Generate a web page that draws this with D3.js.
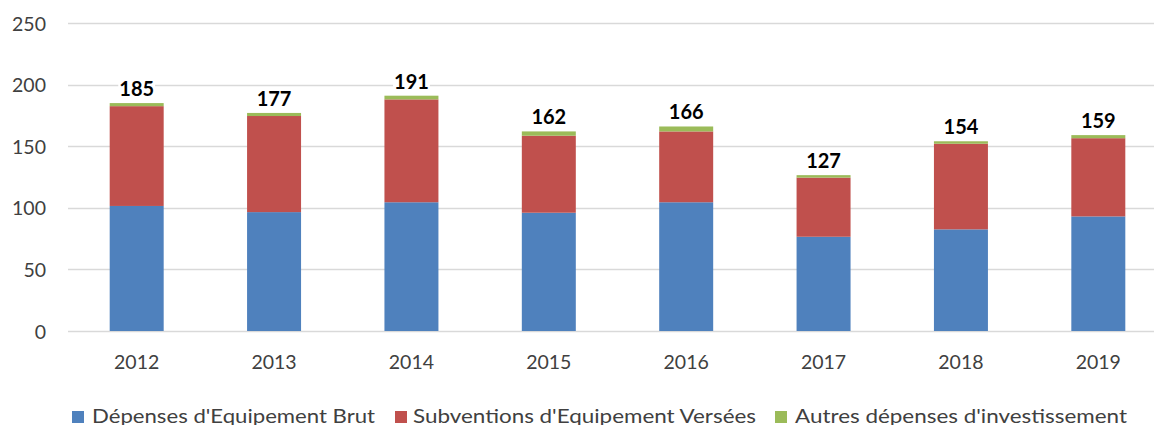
<!DOCTYPE html>
<html>
<head>
<meta charset="utf-8">
<script src="https://cdn.jsdelivr.net/npm/d3@7"></script>
<style>
  html, body { margin: 0; padding: 0; background: #fff; }
  svg { display: block; }
</style>
</head>
<body>
<svg id="chart" width="1154" height="425"></svg>
<script>
const years = ["2012", "2013", "2014", "2015", "2016", "2017", "2018", "2019"];
const equipementBrut = [101.5, 96.5, 104.5, 96, 104.5, 76.5, 82.5, 93];
const subventions = [81, 78, 83.5, 62.5, 57.5, 48, 69.5, 63.5];
const autres = [2.5, 2.5, 3, 3.5, 4, 2, 2, 2.5];
const totalLabels = [185, 177, 191, 162, 166, 127, 154, 159];
const yTicks = [0, 50, 100, 150, 200, 250];
const seriesNames = ["Dépenses d'Equipement Brut", "Subventions d'Equipement Versées", "Autres dépenses d'investissement"];
const seriesColors = ["#4F81BD", "#C0504D", "#9BBB59"];

const svg = d3.select("#chart");
const font = "Lato, 'Open Sans', sans-serif";

const x = d3.scaleBand().domain(years).range([68, 1167]).paddingInner(0.607).paddingOuter(0.3035);
const y = d3.scaleLinear().domain([0, 250]).range([331, 23]);

// gridlines
svg.append("g").selectAll("line").data(yTicks).join("line")
  .attr("x1", 68).attr("x2", 1154)
  .attr("y1", d => Math.round(y(d)) + 0.5).attr("y2", d => Math.round(y(d)) + 0.5)
  .attr("stroke", "#d9d9d9").attr("stroke-width", 1.5);

// y axis labels
const yAxis = d3.axisLeft(y).tickValues(yTicks).tickSize(0).tickPadding(0);
const gy = svg.append("g").attr("transform", "translate(46,0)").call(yAxis);
gy.select(".domain").remove();
gy.selectAll("text").attr("font-family", font).attr("font-size", "19.5px").attr("fill", "#404040").attr("dy", "0.36em");

// x axis labels
const xAxis = d3.axisBottom(x).tickSize(0).tickPadding(0);
const gx = svg.append("g").attr("transform", "translate(0,355)").call(xAxis);
gx.select(".domain").remove();
gx.selectAll("text").attr("font-family", font).attr("font-size", "19.5px").attr("fill", "#404040").attr("dy", "0.72em");

// stacked data
const rows = years.map((yr, i) => ({ year: yr, a: equipementBrut[i], b: subventions[i], c: autres[i] }));
const stack = d3.stack().keys(["a", "b", "c"]);
const stacked = stack(rows);

svg.append("g").selectAll("g").data(stacked).join("g")
  .attr("fill", (d, i) => seriesColors[i])
  .selectAll("rect").data(d => d).join("rect")
  .attr("x", d => x(d.data.year))
  .attr("width", x.bandwidth())
  .attr("y", d => y(d[1]))
  .attr("height", d => y(d[0]) - y(d[1]));

// total labels (with white background like the reference)
const tops = stacked[2];
const lblG = svg.append("g");
years.forEach((yr, i) => {
  const g = lblG.append("g");
  const bg = g.append("rect").attr("fill", "#fff");
  const t = g.append("text")
    .attr("x", x(yr) + x.bandwidth() / 2)
    .attr("y", y(tops[i][1]) - 7)
    .attr("text-anchor", "middle")
    .attr("font-family", font).attr("font-weight", "bold").attr("font-size", "20px")
    .attr("fill", "#000")
    .text(totalLabels[i]);
  const bb = t.node().getBBox();
  bg.attr("x", bb.x - 1).attr("y", bb.y + 2).attr("width", bb.width + 2).attr("height", bb.height - 4);
});

// legend
const legendSquareX = [72, 395, 775];
const legendTextX = [92, 413, 795];
const legendTextW = [283, 343, 332];
const lg = svg.append("g");
seriesNames.forEach((name, i) => {
  lg.append("rect").attr("x", legendSquareX[i]).attr("y", 411).attr("width", 12).attr("height", 12).attr("fill", seriesColors[i]);
  lg.append("text").attr("x", legendTextX[i]).attr("y", 422.5)
    .attr("font-family", font).attr("font-size", "19.5px").attr("fill", "#404040")
    .attr("textLength", legendTextW[i]).attr("lengthAdjust", "spacingAndGlyphs")
    .text(name);
});
</script>
</body>
</html>
